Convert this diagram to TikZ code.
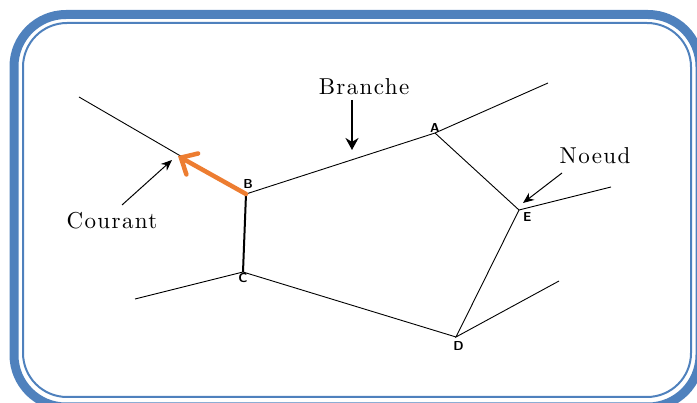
\documentclass[tikz,border=0pt]{standalone}
\usepackage{fontspec}
\usepackage{tikz}
\usetikzlibrary{positioning, arrows.meta}
\newfontfamily\legende{lmroman10-regular}[Extension=.otf, LetterSpace=6]
\definecolor{cadre}{RGB}{79,129,189}
\definecolor{orange}{RGB}{237,125,49}
\tikzset{
x=1pt, y=-1pt, % one unit per pixel, y going down
fil/.style={line width=0.9pt}, % the wires
mot/.style={font=\legende\fontsize{23}{27}\selectfont, inner sep=0pt}, % captions
lettre/.style={font=\sffamily\bfseries\fontsize{13}{15}\selectfont, inner sep=1pt}, % node letters
fleche/.style={-{Stealth[length=11pt,width=9pt]}, line width=1pt}, % pointers
}

\begin{document}
\begin{tikzpicture}
    \useasboundingbox (0,0) rectangle (697,403);
    % frame
    \draw[cadre, line width=9pt, rounded corners=52pt] (14,14.5) rectangle (700,407);
    \draw[cadre, line width=2pt, rounded corners=44pt] (23,23) rectangle (691,397);

    % junctions
    \coordinate (A) at (435,133);
    \coordinate (B) at (246,194);
    \coordinate (C) at (243,272);
    \coordinate (D) at (456,337);
    \coordinate (E) at (519,210);
    % free ends
    \coordinate (bg) at (79,97);
    \coordinate (ad) at (548,83);
    \coordinate (ed) at (611,187);
    \coordinate (dd) at (559,281);
    \coordinate (cg) at (135,299);
    \coordinate (pointe) at (178,156);

    \node[lettre, above=-1pt of A] (la) {A};
    \node[lettre, above left=4pt and -8pt of B] (lb) {B};
    \node[lettre, below=0pt of C] (lc) {C};
    \node[lettre, below left=3pt and -9pt of D] (ld) {D};
    \node[lettre, below right=1pt and 3pt of E] (le) {E};

    \draw[fil] (bg) -- (B) -- (A) -- (ad);
    \draw[fil] (A) -- (E) -- (ed);
    \draw[fil] (E) -- (D) -- (dd);
    \draw[fil] (D) -- (C) -- (cg);
    \draw[line width=2pt] (B) -- (C);

    % current on the branch B
    \draw[orange, line width=4.5pt, line cap=round,
          -{Straight Barb[length=13pt, width=24pt, line cap=round]}] (B) -- (pointe);

    % captions
    \node[mot] (branche) at (364,87) {Branche};
    \node[mot] (courant) at (112,221) {Courant};
    \node[mot] (noeud) at (595,156) {Noeud};
    \coordinate (db) at (352,100);
    \coordinate (fb) at (352,150);
    \coordinate (dc) at (122,205);
    \coordinate (fc) at (172,160);
    \coordinate (dn) at (562,173);
    \coordinate (fn) at (523,203);
    \draw[line width=2pt, -{Stealth[length=12pt,width=13pt]}] (db) -- (fb);
    \draw[fleche] (dc) -- (fc);
    \draw[fleche] (dn) -- (fn);
\end{tikzpicture}
\end{document}
